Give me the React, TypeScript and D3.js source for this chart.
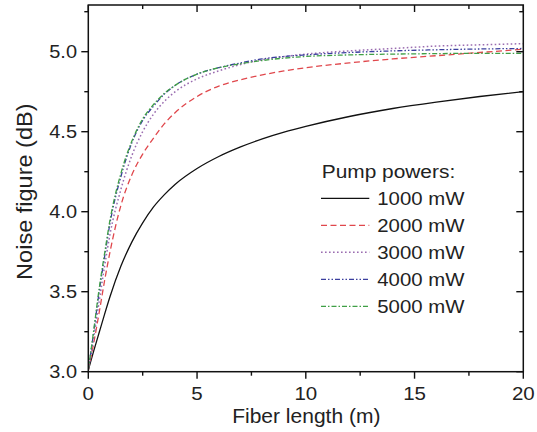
import React from "react";
import * as d3 from "d3";

const xs = [0, 0.25, 0.5, 0.75, 1, 1.5, 2, 2.5, 3, 3.5, 4, 5, 6, 7, 8, 9, 10, 12, 14, 16, 18, 20];
const nf1000 = [3.01, 3.13, 3.245, 3.36, 3.47, 3.66, 3.81, 3.93, 4.03, 4.107, 4.172, 4.27, 4.345, 4.405, 4.455, 4.497, 4.533, 4.595, 4.645, 4.685, 4.72, 4.75];
const nf2000 = [3.01, 3.18, 3.37, 3.57, 3.75, 4.04, 4.23, 4.36, 4.46, 4.55, 4.62, 4.72, 4.785, 4.825, 4.855, 4.88, 4.90, 4.93, 4.955, 4.975, 4.995, 5.015];
const nf3000 = [3.01, 3.21, 3.44, 3.66, 3.86, 4.14, 4.35, 4.50, 4.61, 4.69, 4.75, 4.83, 4.88, 4.92, 4.95, 4.97, 4.985, 5.005, 5.02, 5.035, 5.043, 5.05];
const nf4000 = [3.01, 3.25, 3.50, 3.72, 3.93, 4.22, 4.43, 4.57, 4.66, 4.735, 4.79, 4.86, 4.90, 4.93, 4.955, 4.97, 4.98, 4.995, 5.005, 5.012, 5.017, 5.02];
const nf5000 = [3.01, 3.26, 3.52, 3.74, 3.95, 4.24, 4.44, 4.58, 4.67, 4.74, 4.79, 4.86, 4.90, 4.925, 4.945, 4.96, 4.97, 4.98, 4.985, 4.988, 4.99, 4.99];

const seriesNames = ["1000 mW", "2000 mW", "3000 mW", "4000 mW", "5000 mW"];
const seriesValues = [nf1000, nf2000, nf3000, nf4000, nf5000];
const seriesColors = ["#111111", "#e0474c", "#9a6cb0", "#3b3f9e", "#3f9f45"];
const seriesDash = ["", "6,3.5", "1.6,2.4", "5,2,1.5,2,1.5,2", "5,2,1.5,2"];
const seriesWidth = [1.3, 1.3, 1.5, 1.3, 1.3];

const xMajor = [0, 5, 10, 15, 20];
const xMinor = [2.5, 7.5, 12.5, 17.5];
const yMajor = [3.0, 3.5, 4.0, 4.5, 5.0];
const yMinor = [3.25, 3.75, 4.25, 4.75, 5.25];

const W = 537;
const H = 432;
const left = 88.3, right = 523.3, top = 5, bottom = 371.7;
const FONT = "'Liberation Sans', Arial, Helvetica, sans-serif";

export default function App() {
  const x = d3.scaleLinear().domain([0, 20]).range([left, right]);
  const y = d3.scaleLinear().domain([3.0, 5.3]).range([bottom, bottom - 2.3 * 160]);
  const line = d3
    .line<[number, number]>()
    .x((d) => x(d[0]))
    .y((d) => y(d[1]))
    .curve(d3.curveMonotoneX);

  const legendRows = [198.3, 225.3, 252.3, 279.3, 306.3];

  return (
    <svg width={W} height={H} style={{ position: "absolute", left: 0, top: 0, background: "#fff" }}>
      <rect x={0} y={0} width={W} height={H} fill="#fff" />
      <defs>
        <clipPath id="plotclip">
          <rect x={left} y={top} width={right - left} height={bottom - top} />
        </clipPath>
      </defs>
      <g clipPath="url(#plotclip)">
        {seriesValues.map((vals, i) => (
          <path
            key={i}
            d={line(xs.map((xv, j) => [xv, vals[j]] as [number, number])) || ""}
            fill="none"
            stroke={seriesColors[i]}
            strokeWidth={seriesWidth[i]}
            strokeDasharray={seriesDash[i]}
          />
        ))}
      </g>
      <rect x={left} y={top} width={right - left} height={bottom - top} fill="none" stroke="#111" strokeWidth={1.5} />
      {xMajor.map((v) => (
        <g key={"xM" + v}>
          <line x1={x(v)} x2={x(v)} y1={bottom} y2={bottom + 7} stroke="#111" strokeWidth={1.4} />
          <line x1={x(v)} x2={x(v)} y1={top} y2={top + 7} stroke="#111" strokeWidth={1.4} />
        </g>
      ))}
      {xMinor.map((v) => (
        <g key={"xm" + v}>
          <line x1={x(v)} x2={x(v)} y1={bottom} y2={bottom + 4} stroke="#111" strokeWidth={1.4} />
          <line x1={x(v)} x2={x(v)} y1={top} y2={top + 4} stroke="#111" strokeWidth={1.4} />
        </g>
      ))}
      {yMajor.map((v) => (
        <g key={"yM" + v}>
          <line x1={left - 7} x2={left} y1={y(v)} y2={y(v)} stroke="#111" strokeWidth={1.4} />
          <line x1={right - 7} x2={right} y1={y(v)} y2={y(v)} stroke="#111" strokeWidth={1.4} />
        </g>
      ))}
      {yMinor.map((v) => (
        <g key={"ym" + v}>
          <line x1={left - 4} x2={left} y1={y(v)} y2={y(v)} stroke="#111" strokeWidth={1.4} />
          <line x1={right - 4} x2={right} y1={y(v)} y2={y(v)} stroke="#111" strokeWidth={1.4} />
        </g>
      ))}
      {xMajor.map((v) => (
        <text
          key={"xl" + v}
          transform={`translate(${x(v)},${399.5}) scale(1.08,1)`}
          textAnchor="middle"
          fontFamily={FONT}
          fontSize={19}
          fill="#222"
        >
          {String(v)}
        </text>
      ))}
      {yMajor.map((v) => (
        <text
          key={"yl" + v}
          transform={`translate(${77},${y(v) + 6.6}) scale(1.08,1)`}
          textAnchor="end"
          fontFamily={FONT}
          fontSize={18.5}
          fill="#222"
        >
          {d3.format(".1f")(v)}
        </text>
      ))}
      <text
        transform={`translate(${(left + right) / 2 + 0.5},${423.3})`}
        textAnchor="middle"
        fontFamily={FONT}
        fontSize={21}
        fill="#222"
      >
        Fiber length (m)
      </text>
      <text
        transform={`translate(${31.5},${191.7}) rotate(-90) scale(1.12,1.05)`}
        textAnchor="middle"
        fontFamily={FONT}
        fontSize={21}
        fill="#222"
      >
        Noise figure (dB)
      </text>
      <text
        transform={`translate(${321.7},${178.3}) scale(1.13,1)`}
        fontFamily={FONT}
        fontSize={18.5}
        fill="#222"
      >
        Pump powers:
      </text>
      {seriesNames.map((name, i) => (
        <g key={"lg" + i}>
          <line
            x1={321}
            x2={369.3}
            y1={legendRows[i]}
            y2={legendRows[i]}
            stroke={seriesColors[i]}
            strokeWidth={seriesWidth[i]}
            strokeDasharray={seriesDash[i]}
          />
          <text
            transform={`translate(${377.3},${legendRows[i] + 6.8}) scale(1.1,1)`}
            fontFamily={FONT}
            fontSize={18.5}
            fill="#222"
          >
            {name}
          </text>
        </g>
      ))}
    </svg>
  );
}
